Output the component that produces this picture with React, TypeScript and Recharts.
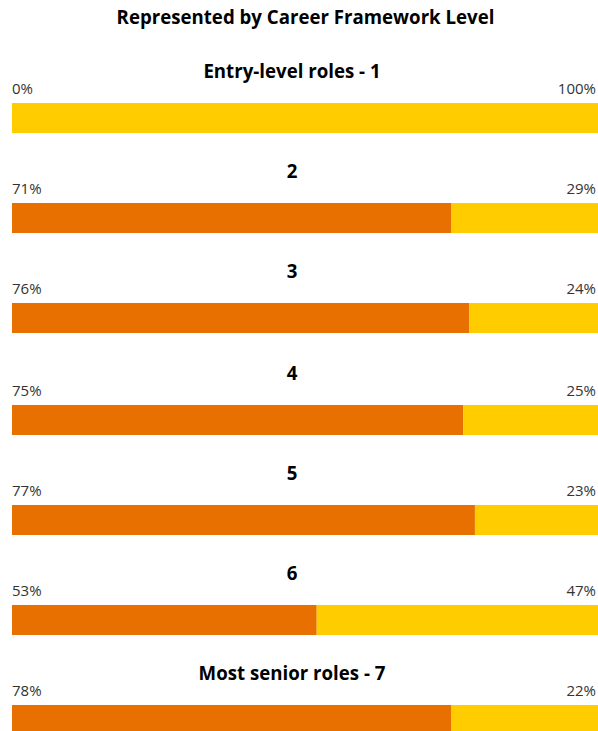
import { ReactElement } from 'react'
import { BarChart, Bar, XAxis, YAxis } from 'recharts'

const chartTitle = 'Represented by Career Framework Level'
const levels = ['Entry-level roles - 1', '2', '3', '4', '5', '6', 'Most senior roles - 7']
// bar widths as drawn (orange / yellow share)
const orangeShare = [0, 75, 78, 77, 79, 52, 75]
const yellowShare = [100, 25, 22, 23, 21, 48, 25]
// printed labels
const leftLabels = ['0%', '71%', '76%', '75%', '77%', '53%', '78%']
const rightLabels = ['100%', '29%', '24%', '25%', '23%', '47%', '22%']

const colorOrange = '#E87000'
const colorYellow = '#FFCC00'
const fontFamily = '"Open Sans", sans-serif'
const titleSize = 18.67
const barLeft = 12
const barWidth = 586
const barHeight = 30

const rowTop = (i: number) => 103 + i * 100 + (i >= 3 ? 2 : 0)

const Row = ({ i }: { i: number }): ReactElement => {
   const top = rowTop(i)
   const data = [{ name: levels[i], orange: orangeShare[i], yellow: yellowShare[i] }]
   return (
      <>
         <div style={{ position: 'absolute', top: top - 41, left: 0, width: 584, textAlign: 'center', fontSize: titleSize, lineHeight: '18px', fontWeight: 700, color: '#000' }}>
            { levels[i] }
         </div>
         <div style={{ position: 'absolute', top: top - 22, left: barLeft, fontSize: 15, lineHeight: '15px', color: '#333' }}>
            { leftLabels[i] }
         </div>
         <div style={{ position: 'absolute', top: top - 22, right: 2, fontSize: 15, lineHeight: '15px', color: '#333' }}>
            { rightLabels[i] }
         </div>
         <div style={{ position: 'absolute', top, left: barLeft }}>
            <BarChart
               layout='vertical'
               width={ barWidth }
               height={ barHeight }
               data={ data }
               margin={{ top: 0, right: 0, bottom: 0, left: 0 }}
               barCategoryGap='0%'
               barGap={ 0 }
            >
               <XAxis type='number' domain={ [0, 100] } hide height={ 0 } />
               <YAxis type='category' dataKey='name' hide width={ 0 } />
               <Bar dataKey='orange' stackId='s' fill={ colorOrange } isAnimationActive={ false } />
               <Bar dataKey='yellow' stackId='s' fill={ colorYellow } isAnimationActive={ false } />
            </BarChart>
         </div>
      </>
   )
}

export default function App(): ReactElement {
   return (
      <div style={{ position: 'absolute', top: 0, left: 0, width: 598, height: 731, overflow: 'hidden', fontFamily, background: '#fff' }}>
         <div style={{ position: 'absolute', top: 8, left: 0, width: 611, textAlign: 'center', fontSize: titleSize, lineHeight: '18px', fontWeight: 700, color: '#000' }}>
            { chartTitle }
         </div>
         { levels.map((_, i) => <Row key={ i } i={ i } />) }
      </div>
   )
}
